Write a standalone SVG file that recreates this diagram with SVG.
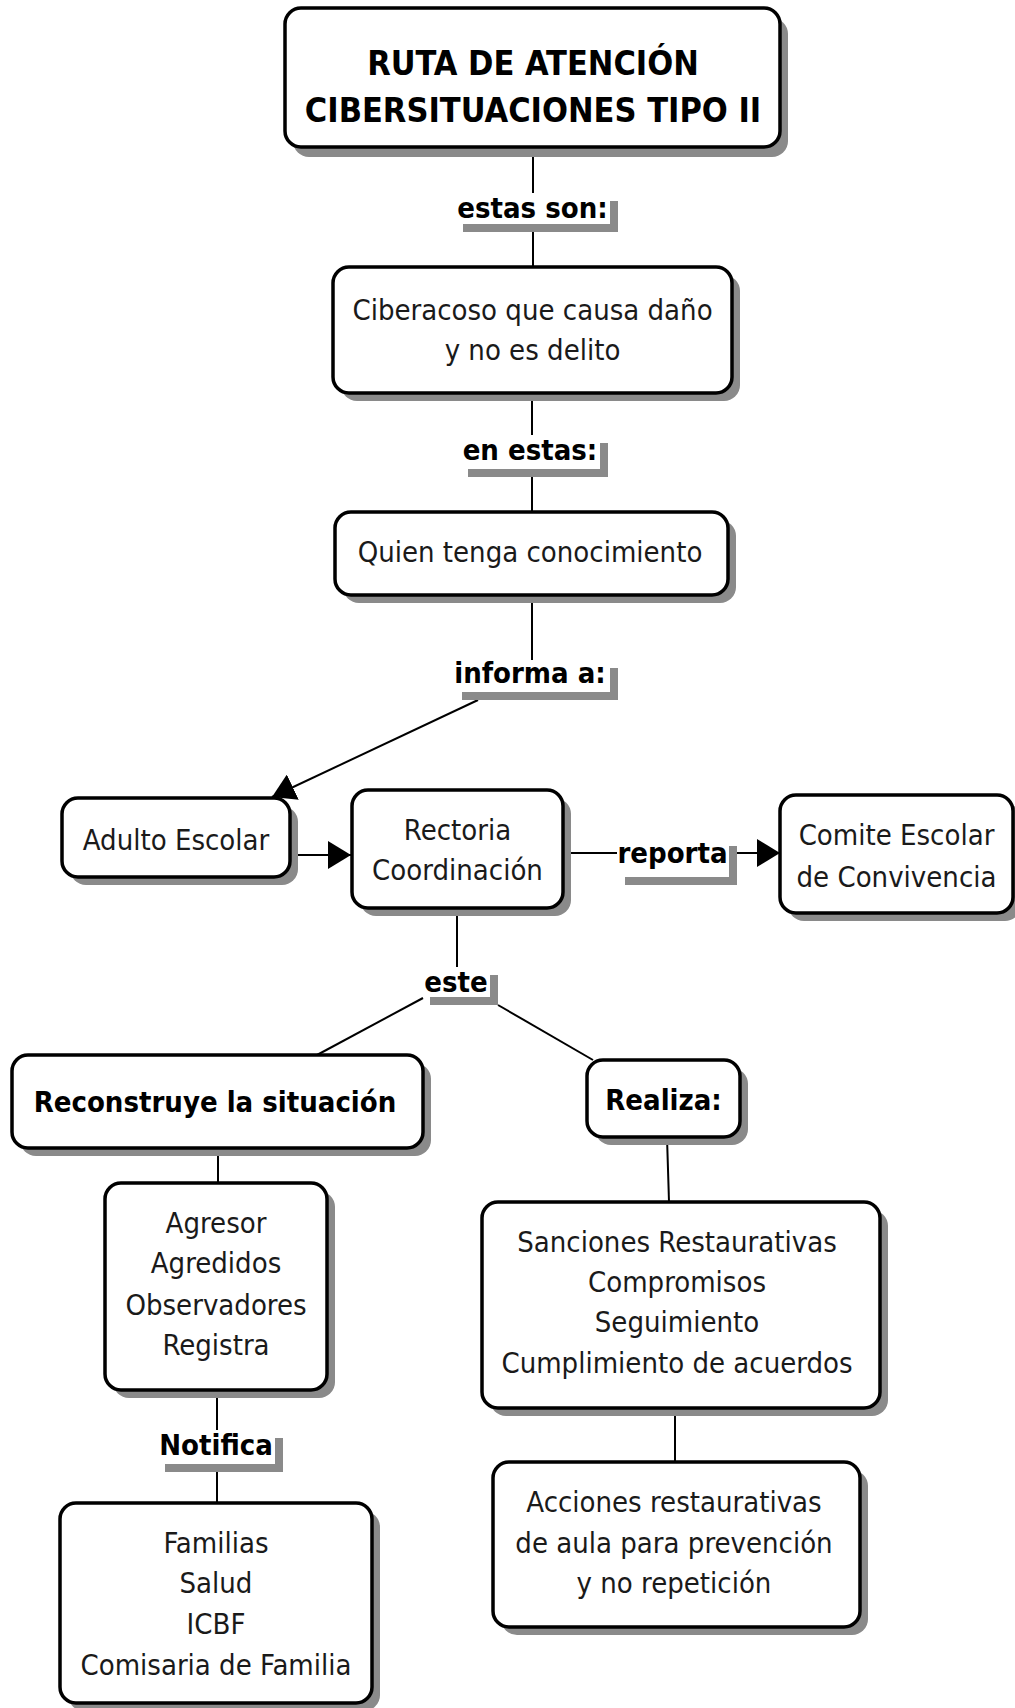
<svg xmlns="http://www.w3.org/2000/svg" width="1015" height="1708" viewBox="0 0 1015 1708">
<style>
text{font-family:"DejaVu Sans Condensed","DejaVu Sans",sans-serif;font-stretch:condensed;text-anchor:middle;fill:#1a1a1a}
.t{font-size:29px}
.b{font-size:29px;font-weight:bold;fill:#000}
.title{font-size:34px;font-weight:bold;fill:#000}
.box{fill:#fff;stroke:#000;stroke-width:3.5}
.sh{fill:#8a8a8a}
.lbl{fill:#fff}
.c{stroke:#000;stroke-width:2;fill:none}
</style>
<defs>
<marker id="ah" markerUnits="userSpaceOnUse" markerWidth="24" markerHeight="28" refX="23" refY="14" orient="auto"><path d="M0,0 L23,14 L0,28 z" fill="#000"/></marker>
</defs>
<rect width="1015" height="1708" fill="#fff"/>
<g id="connectors">
<line class="c" x1="533" y1="147" x2="533" y2="267"/>
<line class="c" x1="532" y1="393" x2="532" y2="512"/>
<line class="c" x1="532" y1="595" x2="532" y2="665"/>
<line class="c" x1="478" y1="700" x2="272" y2="797" marker-end="url(#ah)"/>
<line class="c" x1="292" y1="855" x2="351" y2="855" marker-end="url(#ah)"/>
<line class="c" x1="563" y1="853" x2="620" y2="853"/>
<line class="c" x1="729" y1="853" x2="780" y2="853" marker-end="url(#ah)"/>
<line class="c" x1="457" y1="908" x2="457" y2="970"/>
<line class="c" x1="423" y1="998" x2="317" y2="1055"/>
<line class="c" x1="498" y1="1005" x2="593" y2="1060"/>
<line class="c" x1="218" y1="1148" x2="218" y2="1183"/>
<line class="c" x1="217" y1="1390" x2="217" y2="1503"/>
<line class="c" x1="667" y1="1137" x2="669" y2="1202"/>
<line class="c" x1="675" y1="1408" x2="675" y2="1462"/>
</g>
<g id="lbl-estas-son">
<rect class="sh" x="463" y="201" width="155" height="31"/>
<rect class="lbl" x="455" y="193" width="155" height="31"/>
<text class="b" x="532.5" y="218">estas son:</text>
</g>
<g id="lbl-en-estas">
<rect class="sh" x="468" y="443" width="140" height="34"/>
<rect class="lbl" x="460" y="435" width="140" height="34"/>
<text class="b" x="530" y="460">en estas:</text>
</g>
<g id="lbl-informa">
<rect class="sh" x="462" y="668" width="156" height="32"/>
<rect class="lbl" x="454" y="660" width="156" height="32"/>
<text class="b" x="530" y="683">informa a:</text>
</g>
<g id="lbl-reporta">
<rect class="sh" x="625" y="846" width="112" height="39"/>
<rect class="lbl" x="617" y="838" width="112" height="39"/>
<text class="b" x="672.5" y="863">reporta</text>
</g>
<g id="lbl-este">
<rect class="sh" x="430" y="975" width="68" height="30"/>
<rect class="lbl" x="422" y="967" width="68" height="30"/>
<text class="b" x="456" y="992">este</text>
</g>
<g id="lbl-notifica">
<rect class="sh" x="165" y="1438" width="118" height="34"/>
<rect class="lbl" x="157" y="1430" width="118" height="34"/>
<text class="b" x="216" y="1455">Notifica</text>
</g>
<g id="n-title">
<rect class="sh" x="293" y="18" width="495" height="139" rx="16"/>
<rect class="box" x="285" y="8" width="495" height="139" rx="16"/>
<text class="title" x="533" y="75">RUTA DE ATENCIÓN</text>
<text class="title" x="533" y="122">CIBERSITUACIONES TIPO II</text>
</g>
<g id="n-ciberacoso">
<rect class="sh" x="341" y="275" width="399" height="126" rx="16"/>
<rect class="box" x="333" y="267" width="399" height="126" rx="16"/>
<text class="t" x="532.5" y="320">Ciberacoso que causa daño</text>
<text class="t" x="532.5" y="360">y no es delito</text>
</g>
<g id="n-quien">
<rect class="sh" x="343" y="520" width="393" height="83" rx="16"/>
<rect class="box" x="335" y="512" width="393" height="83" rx="16"/>
<text class="t" x="530" y="562">Quien tenga conocimiento</text>
</g>
<g id="n-adulto">
<rect class="sh" x="70" y="806" width="228" height="79" rx="16"/>
<rect class="box" x="62" y="798" width="228" height="79" rx="16"/>
<text class="t" x="176" y="850">Adulto Escolar</text>
</g>
<g id="n-rectoria">
<rect class="sh" x="360" y="798" width="211" height="118" rx="16"/>
<rect class="box" x="352" y="790" width="211" height="118" rx="16"/>
<text class="t" x="457.5" y="840">Rectoria</text>
<text class="t" x="457.5" y="880">Coordinación</text>
</g>
<g id="n-comite">
<rect class="sh" x="788" y="803" width="233" height="118" rx="16"/>
<rect class="box" x="780" y="795" width="233" height="118" rx="16"/>
<text class="t" x="896.5" y="845">Comite Escolar</text>
<text class="t" x="896.5" y="887">de Convivencia</text>
</g>
<g id="n-reconstruye">
<rect class="sh" x="20" y="1063" width="411" height="93" rx="16"/>
<rect class="box" x="12" y="1055" width="411" height="93" rx="16"/>
<text class="b" x="215" y="1112">Reconstruye la situación</text>
</g>
<g id="n-realiza">
<rect class="sh" x="595" y="1068" width="153" height="77" rx="16"/>
<rect class="box" x="587" y="1060" width="153" height="77" rx="16"/>
<text class="b" x="663.5" y="1110">Realiza:</text>
</g>
<g id="n-agresor">
<rect class="sh" x="113" y="1191" width="222" height="207" rx="16"/>
<rect class="box" x="105" y="1183" width="222" height="207" rx="16"/>
<text class="t" x="216" y="1233">Agresor</text>
<text class="t" x="216" y="1273">Agredidos</text>
<text class="t" x="216" y="1315">Observadores</text>
<text class="t" x="216" y="1355">Registra</text>
</g>
<g id="n-sanciones">
<rect class="sh" x="490" y="1210" width="398" height="206" rx="16"/>
<rect class="box" x="482" y="1202" width="398" height="206" rx="16"/>
<text class="t" x="677" y="1252">Sanciones Restaurativas</text>
<text class="t" x="677" y="1292">Compromisos</text>
<text class="t" x="677" y="1332">Seguimiento</text>
<text class="t" x="677" y="1373">Cumplimiento de acuerdos</text>
</g>
<g id="n-familias">
<rect class="sh" x="68" y="1511" width="312" height="200" rx="16"/>
<rect class="box" x="60" y="1503" width="312" height="200" rx="16"/>
<text class="t" x="216" y="1553">Familias</text>
<text class="t" x="216" y="1593">Salud</text>
<text class="t" x="216" y="1634">ICBF</text>
<text class="t" x="216" y="1675">Comisaria de Familia</text>
</g>
<g id="n-acciones">
<rect class="sh" x="501" y="1470" width="367" height="165" rx="16"/>
<rect class="box" x="493" y="1462" width="367" height="165" rx="16"/>
<text class="t" x="674" y="1512">Acciones restaurativas</text>
<text class="t" x="674" y="1553">de aula para prevención</text>
<text class="t" x="674" y="1593">y no repetición</text>
</g>
</svg>
